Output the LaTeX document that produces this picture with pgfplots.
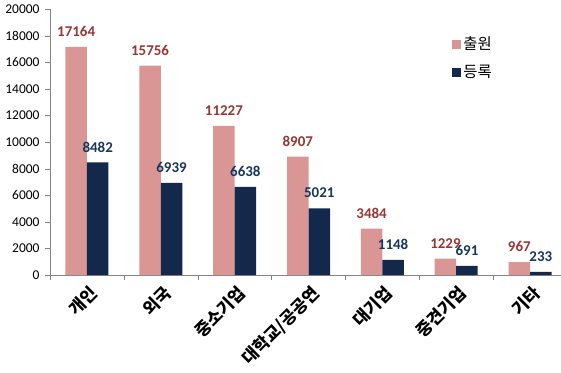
\documentclass[border=0pt]{standalone}
\usepackage{pgfplots}
\pgfplotsset{compat=1.18}
\usepackage{fontspec}
\setmainfont{Carlito}
\newfontfamily\kr{Noto Sans CJK KR}
\definecolor{pinkbar}{HTML}{D99694}
\definecolor{navybar}{HTML}{14284B}
\definecolor{redlab}{HTML}{953735}
\definecolor{navylab}{HTML}{17375E}
\definecolor{axgray}{HTML}{868686}
\begin{document}
\begin{tikzpicture}[x=1bp,y=1bp]
\path[use as bounding box] (0,0) rectangle (561,372);
\begin{axis}[
  at={(50bp,97bp)}, anchor=south west,
  scale only axis, width=517bp, height=265.7bp,
  xmin=-0.5, xmax=6.5, ymin=0, ymax=20000,
  ytick={0,2000,...,20000},
  scaled y ticks=false,
  xtick={0,...,6},
  xticklabels={개인,외국,중소기업,대학교/공공연,대기업,중견기업,기타},
  minor xtick={-0.5,0.5,...,6.5},
  axis x line*=bottom, axis y line*=left,
  axis line style={draw=axgray},
  every tick/.style={draw=axgray},
  major x tick style={draw=none},
  tick align=outside,
  major tick length=5bp, minor tick length=5bp,
  /pgf/number format/.cd, 1000 sep={}, assume math mode=true, /pgfplots/.cd,
  y tick label style={font=\fontsize{13.5}{13.5}\selectfont, xshift=-2bp},
  x tick label style={font=\kr\bfseries\fontsize{17}{17}\selectfont, rotate=45, anchor=north east, inner sep=1bp, xshift=-1bp, yshift=-3bp},
  ybar=0pt, bar width=21.5bp,
  legend style={at={(rel axis cs:0.772,0.912)}, anchor=north west, draw=none, fill=none,
    font=\kr\fontsize{15.5}{15.5}\selectfont, row sep=10bp,
    /tikz/every even column/.append style={column sep=1bp}},
  legend cell align=left,
  nodes near coords,
  nodes near coords style={font=\bfseries\fontsize{15}{15}\selectfont, anchor=south, inner sep=1bp, yshift=9bp},
]
\addplot[fill=pinkbar, draw=none,
  nodes near coords style={text=redlab},
  legend image code/.code={\fill[pinkbar] (0bp,-4.5bp) rectangle (9bp,4.5bp);}]
  coordinates {(0,17164) (1,15756) (2,11227) (3,8907) (4,3484) (5,1229) (6,967)};
\addplot[fill=navybar, draw=none,
  nodes near coords style={text=navylab},
  legend image code/.code={\fill[navybar] (0bp,-4.5bp) rectangle (9bp,4.5bp);}]
  coordinates {(0,8482) (1,6939) (2,6638) (3,5021) (4,1148) (5,691) (6,233)};
\legend{출원,등록}
\end{axis}
\end{tikzpicture}
\end{document}
